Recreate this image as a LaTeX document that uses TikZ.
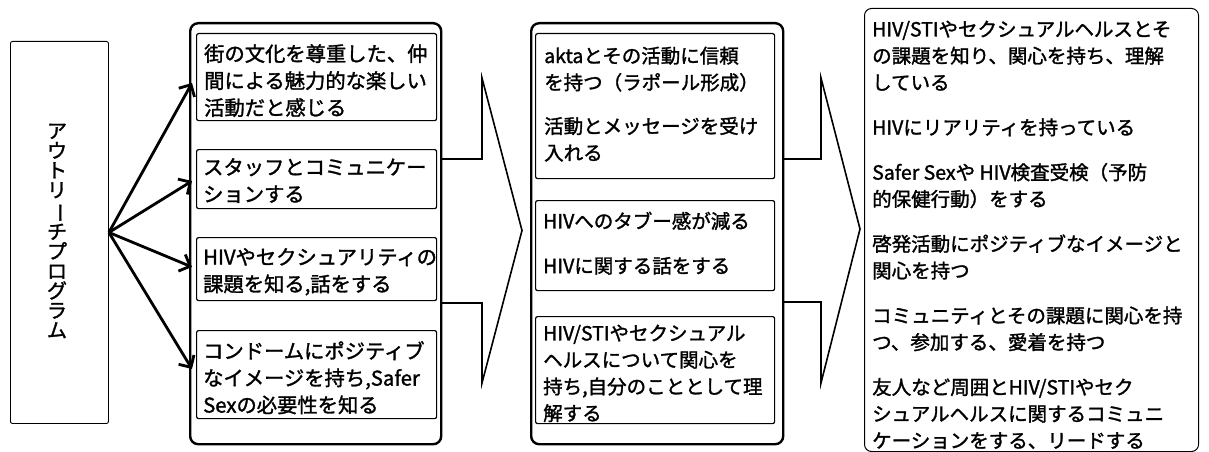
\documentclass[tikz,border=0pt]{standalone}
\usepackage{fontspec}
\setmainfont{Noto Sans CJK JP}[FakeBold=1.5]
\usetikzlibrary{arrows.meta}
\begin{document}
\begin{tikzpicture}[x=1pt,y=-1pt,
  progbox/.style={draw, line width=0.9pt, rounded corners=2pt, inner sep=0pt, anchor=north west},
  outerbox/.style={draw, line width=2.4pt, rounded corners=8pt, inner sep=0pt, anchor=north west},
  innerbox/.style={draw, line width=1.2pt, rounded corners=2pt, inner sep=0pt, anchor=north west},
  rightbox/.style={draw, line width=1pt, rounded corners=7pt, inner sep=0pt, anchor=north west},
  txt/.style={anchor=north west, inner sep=0pt, align=left, font=\fontsize{20.3}{27}\selectfont},
  txtr/.style={anchor=north west, inner sep=0pt, align=left, font=\fontsize{19.5}{26.7}\selectfont},
  blockarrow/.style={draw, line width=1.6pt, line join=miter},
  fanarrow/.style={line width=2.8pt, -{Straight Barb[length=9pt,width=18pt,line width=2.8pt]}}]

\useasboundingbox (0,0) rectangle (1209,452);

% left program box
\node[progbox, minimum width=98pt, minimum height=382pt] (prog) at (10,41) {};
\node[inner sep=0pt, align=center, font=\fontsize{20}{19.7}\selectfont] (progtxt) at (57,231)
  {ア\\ウ\\ト\\リ\\\rotatebox[origin=c]{-90}{ー}\\チ\\プ\\ロ\\グ\\ラ\\ム};

% column 1
\node[outerbox, minimum width=251pt, minimum height=421pt] (o1) at (189,22) {};
\node[innerbox, minimum width=240pt, minimum height=87pt] (a) at (196,33) {};
\node[innerbox, minimum width=240pt, minimum height=59pt] (b) at (196,149) {};
\node[innerbox, minimum width=240pt, minimum height=63pt] (c) at (196,237) {};
\node[innerbox, minimum width=240pt, minimum height=88pt] (d) at (196,330) {};
\node[txt] (ta) at (204,44) {街の文化を尊重した、仲\\間による魅力的な楽しい\\活動だと感じる};
\node[txt] (tb) at (203,158) {スタッフとコミュニケー\\ションする};
\node[txt] (tc) at (203,248) {HIVやセクシュアリティの\\課題を知る,話をする};
\node[txt] (td) at (203,341) {コンドームにポジティブ\\なイメージを持ち,Safer\\Sexの必要性を知る};

% fan arrows
\coordinate (ea) at (192,83);
\coordinate (eb) at (192,181);
\coordinate (ec) at (192,267);
\coordinate (ed) at (192,369);
\draw[fanarrow] (prog.east) -- (ea);
\draw[fanarrow] (prog.east) -- (eb);
\draw[fanarrow] (prog.east) -- (ec);
\draw[fanarrow] (prog.east) -- (ed);

% block arrow 1
\draw[blockarrow] (440,159) -- (482,159) -- (482,78) -- (522,230.5) -- (482,383) -- (482,303) -- (440,303);

% column 2
\node[outerbox, minimum width=252pt, minimum height=421pt] (o2) at (530,22) {};
\node[innerbox, minimum width=239pt, minimum height=145pt] (e) at (535,33) {};
\node[innerbox, minimum width=239pt, minimum height=90pt] (f) at (535,200) {};
\node[innerbox, minimum width=239pt, minimum height=107pt] (g) at (535,316) {};
\node[txtr] (te) at (544,46.5) {aktaとその活動に信頼\\を持つ（ラポール形成）\\[17pt]活動とメッセージを受け\\入れる};
\node[txtr] (tf) at (543,211.5) {HIVへのタブー感が減る\\[18pt]HIVに関する話をする};
\node[txtr] (tg) at (543,324.5) {HIV/STIやセクシュアル\\ヘルスについて関心を\\持ち,自分のこととして理\\解する};

% block arrow 2
\draw[blockarrow] (782,159) -- (821,159) -- (821,78) -- (860,229) -- (821,383) -- (821,302) -- (782,302);

% column 3
\node[rightbox, minimum width=334pt, minimum height=443pt] (o3) at (864,8) {};
\node[txtr] (th) at (872,20.5) {HIV/STIやセクシュアルヘルスとそ\\の課題を知り、関心を持ち、理解\\している\\[18.2pt]HIVにリアリティを持っている\\[18.2pt]Safer Sexや HIV検査受検（予防\\的保健行動）をする\\[18.2pt]啓発活動にポジティブなイメージと\\関心を持つ\\[18.2pt]コミュニティとその課題に関心を持\\つ、参加する、愛着を持つ\\[18.2pt]友人など周囲とHIV/STIやセク\\シュアルヘルスに関するコミュニ\\ケーションをする、リードする};

\end{tikzpicture}
\end{document}
